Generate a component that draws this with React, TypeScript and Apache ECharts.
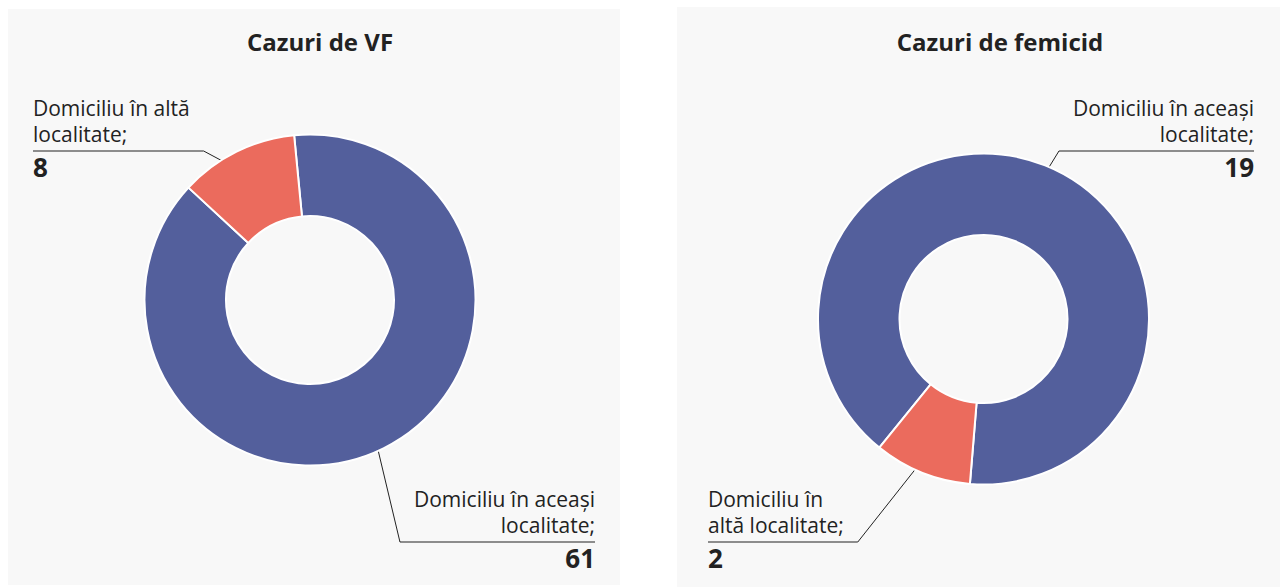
import React, { useEffect, useRef } from 'react';
import * as echarts from 'echarts';

// ---- data ----
const chartTitles = ['Cazuri de VF', 'Cazuri de femicid'];
const vfNames = ['Domiciliu în aceași\nlocalitate;', 'Domiciliu în altă\nlocalitate;'];
const vfValues = [61, 8];
const femicidNames = ['Domiciliu în aceași\nlocalitate;', 'Domiciliu în\naltă localitate;'];
const femicidValues = [19, 2];
const sliceColors = ['#535f9c', '#eb6b5d'];

// ---- layout / style ----
const FONT = '"Open Sans", sans-serif';
const TEXT = '#222222';
const PANEL_BG = '#f8f8f8';
const R_INNER = 84;
const R_OUTER = 165.5;
const R_ANCHOR = 140;
const GAP = 14;

const panels = [
  { x: 8, y: 9, w: 612, h: 576, titleX: 320, titleY: 41, cx: 310, cy: 300, startAngle: 95.5, leftEdge: 33, rightEdge: 595, topLineY: 151, bottomLineY: 542 },
  { x: 677, y: 7, w: 612, h: 582, titleX: 1000, titleY: 41, cx: 983.5, cy: 319, startAngle: 231, leftEdge: 708, rightEdge: 1254, topLineY: 151, bottomLineY: 542 },
];

function makeSeries(p: any, names: string[], values: number[]) {
  return {
    type: 'pie',
    center: [p.cx, p.cy],
    radius: [R_INNER, R_OUTER],
    startAngle: p.startAngle,
    clockwise: true,
    silent: true,
    avoidLabelOverlap: false,
    itemStyle: { borderColor: '#ffffff', borderWidth: 2 },
    label: {
      show: true,
      position: 'outside',
      formatter: (params: any) =>
        String(params.name).split('\n').map((l: string) => `{a|${l}}`).join('\n') + `\n{b|${params.value}}`,
      padding: [0, 0, 20, 0],
      rich: {
        a: { fontFamily: FONT, fontSize: 21, lineHeight: 26, color: TEXT },
        b: { fontFamily: FONT, fontSize: 26, fontWeight: 'bold', lineHeight: 40, color: TEXT },
      },
    },
    labelLine: { show: true, length: 5, length2: 5, lineStyle: { color: TEXT, width: 1 } },
    labelLayout: (params: any) => {
      const pts = params.labelLinePoints;
      if (!pts) return {};
      const p0 = pts[0];
      const dx = p0[0] - p.cx;
      const dy = p0[1] - p.cy;
      const k = R_ANCHOR / Math.sqrt(dx * dx + dy * dy);
      const a = [p.cx + dx * k, p.cy + dy * k];
      const isLeft = dx < 0;
      const lineY = dy < 0 ? p.topLineY : p.bottomLineY;
      const w = params.labelRect.width;
      const x = isLeft ? p.leftEdge : p.rightEdge;
      const elbowX = isLeft ? p.leftEdge + w + GAP : p.rightEdge - w - GAP;
      return {
        x,
        y: lineY,
        align: isLeft ? 'left' : 'right',
        verticalAlign: 'middle',
        labelLinePoints: [a, [elbowX, lineY], [x, lineY]],
      };
    },
    data: values.map((v, i) => ({ value: v, name: names[i], itemStyle: { color: sliceColors[i] } })),
  };
}

export default function App() {
  const ref = useRef<HTMLDivElement>(null);
  useEffect(() => {
    if (!ref.current) return;
    const chart = echarts.init(ref.current, undefined, { renderer: 'svg' });
    const graphic: any[] = [];
    panels.forEach((p, i) => {
      graphic.push({ type: 'rect', z: -10, silent: true, shape: { x: p.x, y: p.y, width: p.w, height: p.h }, style: { fill: PANEL_BG } });
      graphic.push({
        type: 'text', z: 10, silent: true, x: p.titleX, y: p.titleY,
        style: { text: chartTitles[i], fill: TEXT, font: `bold 24px ${FONT}`, textAlign: 'center', textVerticalAlign: 'middle' },
      });
    });
    chart.setOption({
      animation: false,
      backgroundColor: '#ffffff',
      graphic,
      series: [makeSeries(panels[0], vfNames, vfValues), makeSeries(panels[1], femicidNames, femicidValues)],
    });
    return () => chart.dispose();
  }, []);
  return <div ref={ref} style={{ position: 'fixed', left: 0, top: 0, width: 1280, height: 587 }} />;
}
